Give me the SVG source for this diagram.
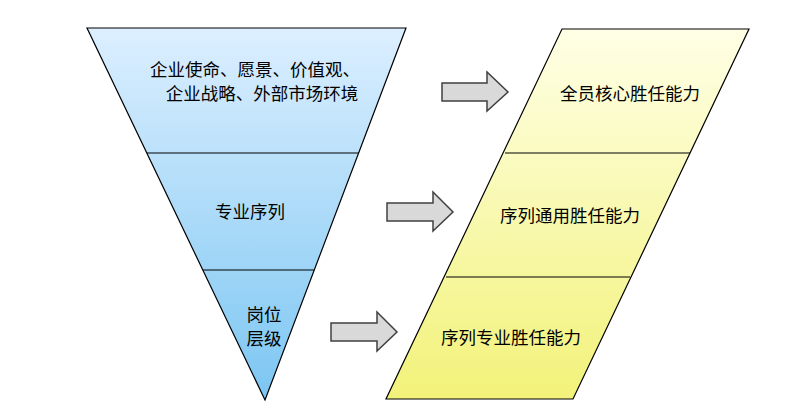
<svg xmlns="http://www.w3.org/2000/svg" width="812" height="419" viewBox="0 0 812 419">
<defs>
<linearGradient id="gb" x1="0" y1="0" x2="0" y2="1"><stop offset="0" stop-color="#dcefff"/><stop offset="1" stop-color="#7cc6f2"/></linearGradient>
<linearGradient id="gy" x1="0" y1="0" x2="0" y2="1"><stop offset="0" stop-color="#ffffe6"/><stop offset="1" stop-color="#f2f27a"/></linearGradient>
<style>
.o{stroke:#000;stroke-width:1.2}
.a{fill:#d9d9d9;stroke:#404040;stroke-width:1.5}
text{font-family:"Noto Sans CJK SC","Noto Sans",sans-serif;font-size:17.5px;fill:#000;text-anchor:middle}
</style>
</defs>
<rect width="812" height="419" fill="#fff"/>
<g id="funnel">
<polygon class="o" fill="url(#gb)" points="87,28 406,28 265,400"/>
<line class="o" x1="147" y1="153" x2="359" y2="153"/>
<line class="o" x1="203" y1="270" x2="314" y2="270"/>
<text x="255" y="76">企业使命、愿景、价值观、</text>
<text x="262" y="100">企业战略、外部市场环境</text>
<text x="250" y="218">专业序列</text>
<text x="264" y="321">岗位</text>
<text x="264" y="345">层级</text>
</g>
<g id="competency">
<polygon class="o" fill="url(#gy)" points="562,29 749,29 573,399 386,399"/>
<line class="o" x1="505" y1="153" x2="690" y2="153"/>
<line class="o" x1="446" y1="277" x2="630" y2="277"/>
<text x="630" y="100">全员核心胜任能力</text>
<text x="570" y="222">序列通用胜任能力</text>
<text x="511" y="344">序列专业胜任能力</text>
</g>
<g id="connectors">
<polygon class="a" points="442,83 487,83 487,72 508,92 487,111 487,101 442,101"/>
<polygon class="a" points="387,203 433,203 433,192 453,212 433,231 433,221 387,221"/>
<polygon class="a" points="331,323 377,323 377,312 397,332 377,351 377,341 331,341"/>
</g>
</svg>
